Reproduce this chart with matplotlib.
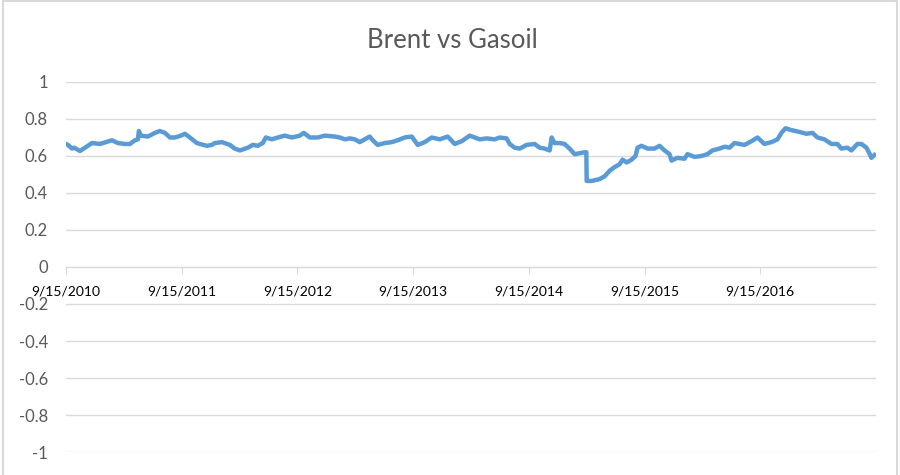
import matplotlib
matplotlib.use("Agg")
import matplotlib.pyplot as plt
from matplotlib.patches import Rectangle

# years elapsed since 9/15/2010 and correlation value
years = [0.000, 0.017, 0.052, 0.069, 0.121, 0.164, 0.225, 0.294, 0.345, 0.397,
         0.449, 0.509, 0.553, 0.596, 0.622, 0.630, 0.648, 0.708, 0.769, 0.812,
         0.855, 0.898, 0.941, 0.993, 1.028, 1.071, 1.131, 1.157, 1.218, 1.261,
         1.287, 1.347, 1.416, 1.459, 1.503, 1.572, 1.615, 1.658, 1.701, 1.727,
         1.779, 1.831, 1.891, 1.952, 2.021, 2.055, 2.107, 2.176, 2.237, 2.323,
         2.366, 2.409, 2.453, 2.496, 2.539, 2.582, 2.625, 2.651, 2.694, 2.755,
         2.815, 2.867, 2.927, 2.988, 3.040, 3.100, 3.161, 3.230, 3.299, 3.359,
         3.420, 3.489, 3.532, 3.575, 3.636, 3.705, 3.748, 3.808, 3.834, 3.877,
         3.921, 3.981, 4.050, 4.093, 4.136, 4.180, 4.197, 4.223, 4.266, 4.309,
         4.352, 4.396, 4.439, 4.482, 4.497, 4.500, 4.542, 4.611, 4.655, 4.698,
         4.741, 4.784, 4.810, 4.845, 4.888, 4.922, 4.940, 4.974, 5.026, 5.086,
         5.130, 5.173, 5.216, 5.233, 5.285, 5.345, 5.371, 5.432, 5.492, 5.544,
         5.587, 5.648, 5.691, 5.734, 5.777, 5.820, 5.864, 5.924, 5.976, 6.036,
         6.097, 6.149, 6.183, 6.218, 6.269, 6.339, 6.399, 6.451, 6.494, 6.554,
         6.615, 6.667, 6.701, 6.753, 6.788, 6.839, 6.874, 6.917, 6.943, 6.960,
         6.986]
corr = [0.665, 0.660, 0.640, 0.645, 0.627, 0.645, 0.670, 0.665, 0.675, 0.685,
        0.670, 0.665, 0.665, 0.685, 0.690, 0.735, 0.710, 0.705, 0.725, 0.735,
        0.725, 0.700, 0.700, 0.710, 0.720, 0.700, 0.670, 0.665, 0.655, 0.660,
        0.670, 0.675, 0.660, 0.640, 0.630, 0.645, 0.660, 0.655, 0.670, 0.700,
        0.690, 0.700, 0.710, 0.700, 0.710, 0.725, 0.700, 0.700, 0.710, 0.705,
        0.700, 0.690, 0.695, 0.690, 0.675, 0.690, 0.705, 0.685, 0.660, 0.670,
        0.675, 0.685, 0.700, 0.705, 0.660, 0.675, 0.700, 0.690, 0.705, 0.665,
        0.680, 0.710, 0.700, 0.690, 0.695, 0.690, 0.700, 0.695, 0.665, 0.645,
        0.640, 0.660, 0.665, 0.645, 0.640, 0.630, 0.700, 0.670, 0.670, 0.665,
        0.640, 0.610, 0.615, 0.620, 0.620, 0.465, 0.465, 0.475, 0.490, 0.520,
        0.540, 0.555, 0.580, 0.565, 0.580, 0.600, 0.645, 0.655, 0.640, 0.640,
        0.655, 0.630, 0.610, 0.575, 0.590, 0.585, 0.610, 0.595, 0.600, 0.610,
        0.630, 0.640, 0.650, 0.645, 0.670, 0.665, 0.660, 0.680, 0.700, 0.665,
        0.675, 0.690, 0.725, 0.750, 0.740, 0.730, 0.720, 0.725, 0.700, 0.690,
        0.665, 0.665, 0.640, 0.645, 0.630, 0.665, 0.665, 0.645, 0.615, 0.590,
        0.605]

x_labels = ["9/15/2010", "9/15/2011", "9/15/2012", "9/15/2013",
            "9/15/2014", "9/15/2015", "9/15/2016"]
y_ticks = [1, 0.8, 0.6, 0.4, 0.2, 0, -0.2, -0.4, -0.6, -0.8, -1]

plt.rcParams["font.family"] = ["Lato", "DejaVu Sans"]
txt = "#595959"
grid = "#D9D9D9"

fig = plt.figure(figsize=(9, 4.75), dpi=100)
ax = fig.add_axes([0.0733, 0.0484, 0.9, 0.779])

ax.plot(years, corr, color="#5B9BD5", linewidth=3.2, solid_joinstyle="round")

ax.set_xlim(0, 7.0)
ax.set_ylim(-1, 1)
ax.set_yticks(y_ticks)
ax.set_yticklabels([("%g" % v) for v in y_ticks], color=txt, fontsize=12)
ax.yaxis.grid(True, color=grid, linewidth=1)
ax.set_axisbelow(True)
ax.tick_params(axis="y", length=0, pad=13)

ax.set_xticks(range(len(x_labels)))
ax.set_xticklabels(x_labels, color=txt, fontsize=12)
ax.tick_params(axis="x", length=5, color=grid, pad=8, direction="out")

for s in ["top", "right", "left"]:
    ax.spines[s].set_visible(False)
ax.spines["bottom"].set_position(("data", 0))
ax.spines["bottom"].set_color(grid)

fig.text(0.503, 0.915, "Brent vs Gasoil", ha="center", va="center",
         fontsize=18.5, color=txt)

fig.patches.append(Rectangle((0.003, -0.02), 0.994, 1.017, transform=fig.transFigure,
                             fill=False, edgecolor=grid, linewidth=1.5))

fig.savefig("out.png", dpi=100)
